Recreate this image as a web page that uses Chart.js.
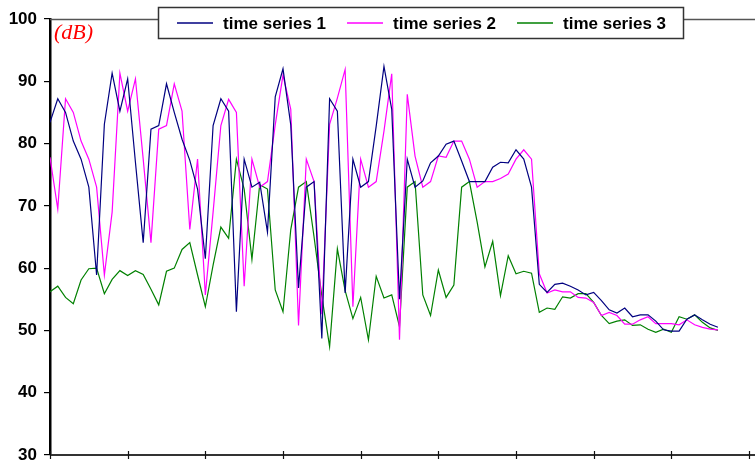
<!DOCTYPE html>
<html>
<head>
<meta charset="utf-8">
<script src="https://cdn.jsdelivr.net/npm/chart.js@4.4.1/dist/chart.umd.min.js"></script>
<style>
  html, body { margin: 0; padding: 0; background: #fff; }
  #wrap { width: 755px; height: 464px; }
</style>
</head>
<body>
<div id="wrap"><canvas id="tsChart" width="755" height="464"></canvas></div>
<script>
// series labels and colours
const seriesNames = ['time series 1', 'time series 2', 'time series 3'];
const seriesColors = ['#000080', '#ff00ff', '#008000'];

// values, one per time step (87 steps)
const ts1 = [83.4, 87.2, 85, 80.4, 77.5, 73, 58.9, 83.1, 91.3, 85.2,
  90.4, 77, 64.1, 82.3, 82.9, 89.6, 85, 80.7, 77.3, 72.7,
  61.5, 82.9, 87.2, 85.2, 53, 77.5, 73, 73.8, 65.8, 87.5,
  92, 83, 56.8, 73, 73.9, 48.7, 87.2, 85.2, 56, 77.5,
  73, 73.9, 82.8, 92.4, 85.5, 55, 77.5, 73, 74, 76.9,
  78, 79.9, 80.4, 77.2, 73.9, 73.9, 73.9, 76.2, 77, 76.9,
  79, 77.5, 73, 57.4, 56.1, 57.4, 57.6, 57.1, 56.5, 55.7,
  56.1, 54.8, 53.3, 52.8, 53.6, 52.2, 52.5, 52.5, 51.5, 50.1,
  49.9, 49.9, 51.8, 52.5, 51.7, 51, 50.5];
const ts2 = [77.8, 69.5, 87.2, 85, 80.4, 77.5, 73, 58.9, 69, 91.3,
  85.2, 90.4, 77.5, 64.1, 82.3, 82.9, 89.6, 85.2, 66.2, 77.5,
  55.7, 69, 82.9, 87.1, 85, 57.1, 77.5, 73, 73.9, 83,
  91, 85.5, 50.8, 77.5, 73.9, 52.6, 83.1, 87.3, 91.9, 53.8,
  77.5, 73, 73.9, 82, 91.2, 48.5, 87.9, 78, 73, 73.9,
  78, 77.8, 80.4, 80.4, 77.5, 73, 73.9, 73.9, 74.4, 75.1,
  77.5, 79, 77.5, 59.1, 56, 56.5, 56.2, 56.2, 55.3, 55.2,
  54.5, 52.4, 52.9, 52.4, 51, 51, 51.7, 52.2, 51.1, 51.1,
  51.1, 50.9, 51.7, 50.9, 50.5, 50.2, 50.1];
const ts3 = [56.2, 57.1, 55.3, 54.3, 58.1, 59.9, 60, 55.9, 58.2, 59.6,
  58.8, 59.6, 59, 56.6, 54.1, 59.5, 60, 63, 64.1, 58.9,
  53.8, 60.5, 66.6, 64.8, 77.5, 72.7, 61.4, 73.4, 72.7, 56.5,
  53, 66.2, 73, 73.9, 65, 55.5, 47.4, 63.1, 56.4, 51.9,
  55.3, 48.5, 58.7, 55.2, 55.7, 50.6, 73, 73.9, 55.7, 52.4,
  59.7, 55.3, 57.3, 73, 73.9, 67.4, 60.2, 64.3, 55.6, 62,
  59.1, 59.5, 59.2, 52.9, 53.6, 53.4, 55.4, 55.2, 55.9, 55.9,
  54.5, 52.4, 51.1, 51.5, 51.7, 50.8, 50.9, 50.2, 49.7, 50.2,
  49.7, 52.2, 51.8, 52.5, 51.3, 50.4, 50];

// axis ranges
const yMin = 30, yMax = 100, yStep = 10;
const xMin = 0, xMax = 90, xStep = 10;
const unitLabel = '(dB)';

const allSeries = [ts1, ts2, ts3];

// extra drawing: frame lines, crossing x ticks, boxed legend, unit label
const decorPlugin = {
  id: 'decor',
  afterDraw(chart) {
    const ctx = chart.ctx;
    const area = chart.chartArea;
    const xs = chart.scales.x;
    const W = chart.width;
    ctx.save();

    // top frame line
    ctx.strokeStyle = '#555';
    ctx.lineWidth = 1.5;
    ctx.beginPath();
    ctx.moveTo(area.left, area.top + 0.5);
    ctx.lineTo(W, area.top + 0.5);
    ctx.stroke();

    // x axis line + tick marks crossing it
    ctx.strokeStyle = '#333';
    ctx.lineWidth = 2;
    ctx.beginPath();
    ctx.moveTo(area.left, area.bottom);
    ctx.lineTo(W, area.bottom);
    ctx.stroke();
    ctx.lineWidth = 1.2;
    ctx.strokeStyle = '#111';
    xs.ticks.forEach(t => {
      const px = Math.round(xs.getPixelForValue(t.value)) + 0.5;
      ctx.beginPath();
      ctx.moveTo(px, area.bottom - 4);
      ctx.lineTo(px, area.bottom + 4);
      ctx.stroke();
    });

    // legend box
    const bx = 158.5, by = 7.5, bw = 525, bh = 31;
    ctx.fillStyle = '#fff';
    ctx.fillRect(bx, by, bw, bh);
    ctx.strokeStyle = '#333';
    ctx.lineWidth = 1.5;
    ctx.strokeRect(bx, by, bw, bh);
    ctx.font = 'bold 17px "Liberation Sans", Arial, sans-serif';
    ctx.textBaseline = 'middle';
    ctx.textAlign = 'left';
    let x = 177;
    const ly = by + bh / 2;
    chart.data.datasets.forEach(ds => {
      ctx.strokeStyle = ds.borderColor;
      ctx.lineWidth = 1.3;
      ctx.beginPath();
      ctx.moveTo(x, ly);
      ctx.lineTo(x + 36, ly);
      ctx.stroke();
      ctx.fillStyle = '#000';
      ctx.fillText(ds.label, x + 46, ly + 1);
      x += 46 + ctx.measureText(ds.label).width + 21;
    });

    // unit label
    ctx.fillStyle = '#ff0000';
    ctx.font = 'italic 22px "Liberation Serif", "Times New Roman", serif';
    ctx.textBaseline = 'middle';
    ctx.fillText(unitLabel, 54, 33);
    ctx.restore();
  }
};

new Chart(document.getElementById('tsChart').getContext('2d'), {
  type: 'line',
  data: {
    datasets: allSeries.map((vals, k) => ({
      label: seriesNames[k],
      data: vals.map((v, i) => ({ x: i, y: v })),
      borderColor: seriesColors[k],
      backgroundColor: seriesColors[k],
      borderWidth: 1.2,
      pointRadius: 0,
      tension: 0,
      fill: false
    }))
  },
  options: {
    responsive: false,
    animation: false,
    layout: { padding: { top: 19, bottom: 9, left: 0, right: 6 } },
    plugins: {
      legend: { display: false },
      tooltip: { enabled: false }
    },
    scales: {
      x: {
        type: 'linear',
        min: xMin,
        max: xMax,
        ticks: { display: false, stepSize: xStep },
        grid: { display: false },
        border: { display: false },
        afterFit(scale) { scale.height = 0; }
      },
      y: {
        min: yMin,
        max: yMax,
        ticks: {
          stepSize: yStep,
          color: '#000',
          padding: 7,
          font: { family: '"Liberation Sans", Arial, sans-serif', size: 17, weight: 'bold' }
        },
        grid: { drawOnChartArea: false, drawTicks: true, tickLength: 6, color: '#000', lineWidth: 1.2 },
        border: { display: true, color: '#000', width: 2.5 },
        afterFit(scale) {
          scale.width = 50;
          scale.paddingTop = 0;
          scale.paddingBottom = 0;
        }
      }
    }
  },
  plugins: [decorPlugin]
});
</script>
</body>
</html>
